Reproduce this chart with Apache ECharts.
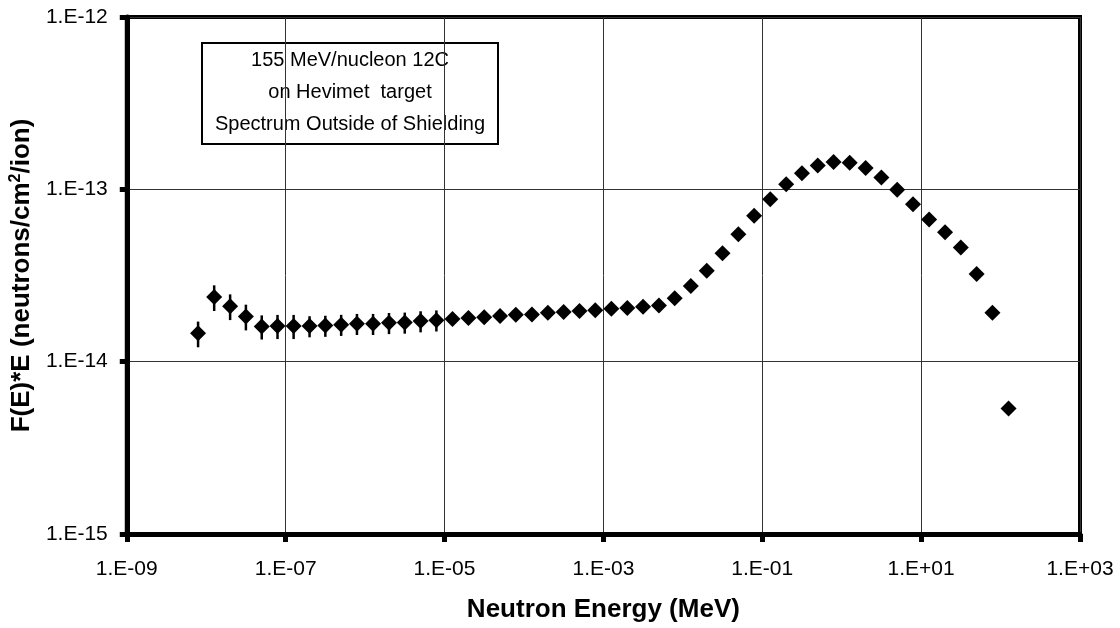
<!DOCTYPE html>
<html>
<head>
<meta charset="utf-8">
<script src="https://cdn.jsdelivr.net/npm/echarts@6/dist/echarts.min.js"></script>
<style>html,body{margin:0;padding:0;background:#fff;}#c{width:1120px;height:628px;}</style>
</head>
<body>
<div id="c"></div>
<script>
// Neutron energy (MeV)
const energy = [7.9e-9, 1.26e-8, 2.0e-8, 3.16e-8, 5.0e-8,
  7.9e-8, 1.26e-7, 2.0e-7, 3.16e-7, 5.0e-7,
  7.9e-7, 1.26e-6, 2.0e-6, 3.16e-6, 5.0e-6,
  7.9e-6, 1.26e-5, 2.0e-5, 3.16e-5, 5.0e-5,
  7.9e-5, 1.26e-4, 2.0e-4, 3.16e-4, 5.0e-4,
  7.9e-4, 1.26e-3, 2.0e-3, 3.16e-3, 5.0e-3,
  7.9e-3, 1.26e-2, 2.0e-2, 3.16e-2, 5.0e-2,
  7.9e-2, 0.126, 0.2, 0.316, 0.5,
  0.79, 1.26, 2.0, 3.16, 5.0,
  7.9, 12.6, 20, 31.6, 50,
  79, 126];
// F(E)*E (neutrons/cm2/ion)
const flux = [1.46e-14, 2.37e-14, 2.10e-14, 1.83e-14, 1.60e-14,
  1.61e-14, 1.61e-14, 1.61e-14, 1.62e-14, 1.64e-14,
  1.66e-14, 1.66e-14, 1.68e-14, 1.69e-14, 1.72e-14,
  1.74e-14, 1.77e-14, 1.79e-14, 1.81e-14, 1.84e-14,
  1.87e-14, 1.88e-14, 1.92e-14, 1.94e-14, 1.97e-14,
  1.99e-14, 2.03e-14, 2.05e-14, 2.08e-14, 2.12e-14,
  2.33e-14, 2.75e-14, 3.37e-14, 4.26e-14, 5.48e-14,
  7.03e-14, 8.76e-14, 1.07e-13, 1.24e-13, 1.375e-13,
  1.44e-13, 1.425e-13, 1.33e-13, 1.17e-13, 9.96e-14,
  8.2e-14, 6.69e-14, 5.63e-14, 4.6e-14, 3.23e-14,
  1.92e-14, 5.34e-15];
// relative uncertainty (fraction)
const relErr = [0.17, 0.17, 0.17, 0.17, 0.16,
  0.16, 0.16, 0.14, 0.14, 0.14,
  0.14, 0.14, 0.14, 0.14, 0.14,
  0.14, 0.08, 0.08, 0.08, 0.08,
  0.08, 0.08, 0.08, 0.08, 0.08,
  0.08, 0.08, 0.08, 0.08, 0.08,
  0.04, 0.04, 0.04, 0.04, 0.04,
  0.04, 0.04, 0.04, 0.04, 0.04,
  0.04, 0.04, 0.04, 0.04, 0.04,
  0.04, 0.04, 0.04, 0.04, 0.04,
  0.04, 0.04];
const xTicks = [1e-9, 1e-7, 1e-5, 1e-3, 1e-1, 1e1, 1e3];
const yTicks = [1e-15, 1e-14, 1e-13, 1e-12];
const boxLines = ['155 MeV/nucleon 12C', 'on Hevimet  target', 'Spectrum Outside of Shielding'];

function fmtExp(v) {
  const e = Math.round(Math.log10(v));
  const s = e < 0 ? '-' : '+';
  const a = Math.abs(e);
  return '1.E' + s + (a < 10 ? '0' + a : '' + a);
}

const pts = energy.map((x, i) => [x, flux[i]]);
const errs = energy.map((x, i) => [x, flux[i] * (1 - relErr[i]), flux[i] * (1 + relErr[i])]);

const FONT = '"Liberation Sans", Arial, sans-serif';
const chart = echarts.init(document.getElementById('c'), null, {renderer: 'canvas'});
chart.setOption({
  animation: false,
  backgroundColor: '#fff',
  grid: {left: 119, right: 40, top: 17, bottom: 90, show: true, borderColor: '#000', borderWidth: 4, backgroundColor: 'transparent'},
  xAxis: {
    type: 'log', logBase: 10, min: 1e-9, max: 1e3,
    name: 'Neutron Energy (MeV)', nameLocation: 'middle', nameGap: 63,
    nameTextStyle: {fontFamily: FONT, fontWeight: 'bold', fontSize: 26, color: '#000'},
    axisLine: {lineStyle: {color: '#000', width: 5}},
    axisTick: {show: true, inside: false, length: 8, lineStyle: {color: '#000', width: 5}, customValues: xTicks},
    axisLabel: {fontFamily: FONT, fontSize: 21, color: '#000', margin: 25, formatter: fmtExp, customValues: xTicks},
    splitLine: {show: true, lineStyle: {color: '#333', width: 1}},
    minorTick: {show: false}
  },
  yAxis: {
    type: 'log', logBase: 10, min: 1e-15, max: 1e-12,
    name: '{b|F(E)*E (neutrons/cm}{s|2}{b|/ion)}', nameLocation: 'middle', nameGap: 78,
    nameTextStyle: {
      rich: {
        b: {fontFamily: FONT, fontWeight: 'bold', fontSize: 26, color: '#000'},
        s: {fontFamily: FONT, fontWeight: 'bold', fontSize: 16, color: '#000', verticalAlign: 'top', padding: [0, 0, 12, 0]}
      }
    },
    axisLine: {lineStyle: {color: '#000', width: 5}},
    axisTick: {show: true, inside: false, length: 7, lineStyle: {color: '#000', width: 5}, customValues: yTicks},
    axisLabel: {fontFamily: FONT, fontSize: 21, color: '#000', margin: 19, formatter: fmtExp, customValues: yTicks},
    splitLine: {show: true, lineStyle: {color: '#333', width: 1}}
  },
  graphic: [{
    type: 'group', left: 201, top: 42, z: 100,
    children: [
      {type: 'rect', shape: {x: 0, y: 0, width: 296, height: 101}, style: {fill: '#fff', stroke: '#000', lineWidth: 2}},
      {type: 'text', x: 148, y: 49, style: {text: boxLines.join('\n'), font: '20px ' + FONT, fill: '#000', align: 'center', verticalAlign: 'middle', lineHeight: 32}}
    ]
  }],
  series: [
    {
      type: 'custom', z: 3,
      renderItem: function (params, api) {
        const p1 = api.coord([api.value(0), api.value(1)]);
        const p2 = api.coord([api.value(0), api.value(2)]);
        return {type: 'line', shape: {x1: p1[0], y1: p1[1], x2: p2[0], y2: p2[1]}, style: {stroke: '#000', lineWidth: 2.5}};
      },
      encode: {x: 0, y: [1, 2]},
      data: errs
    },
    {
      type: 'scatter', z: 4, symbol: 'diamond', symbolSize: 16,
      itemStyle: {color: '#000', opacity: 1},
      data: pts
    }
  ]
});
</script>
</body>
</html>
